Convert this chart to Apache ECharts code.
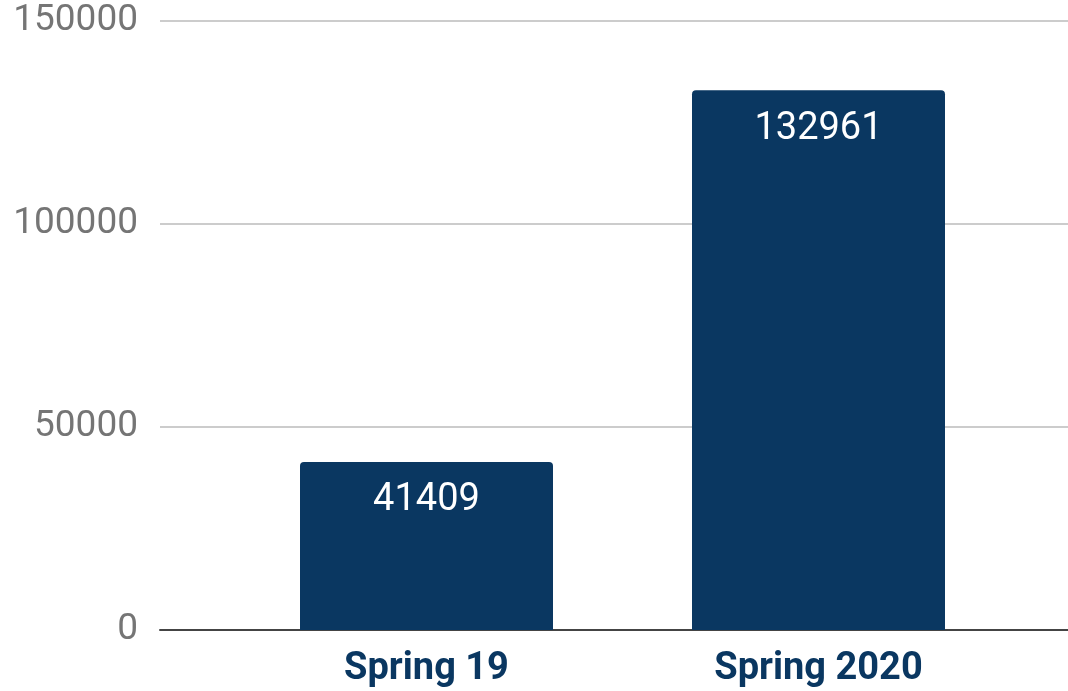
<!DOCTYPE html>
<html><head><meta charset="utf-8">
<script src="https://cdn.jsdelivr.net/npm/echarts@6/dist/echarts.min.js"></script>
<style>html,body{margin:0;padding:0;background:#fff}#c{width:1068px;height:691px}</style>
</head><body><div id="c"></div>
<script>
const categories = ['Spring 19', 'Spring 2020'];
const values = [41409, 132961];
const yTicks = [0, 50000, 100000, 150000];

const chart = echarts.init(document.getElementById('c'));
const yMin = yTicks[0], yMax = yTicks[yTicks.length - 1], yStep = yTicks[1] - yTicks[0];
chart.setOption({
  animation: false,
  grid: [
    {left: 160, right: 0, top: 21, bottom: 61},
    {left: 230.5, right: 53.5, top: 21, bottom: 61}
  ],
  xAxis: [
    {gridIndex: 0, type: 'category', data: [''], axisLine: {show: true, lineStyle: {color: '#444', width: 2}},
     axisTick: {show: false}, axisLabel: {show: false}},
    {gridIndex: 1, type: 'category', data: categories, axisLine: {show: false}, axisTick: {show: false},
     axisLabel: {color: '#0a3761', fontFamily: 'Roboto', fontWeight: 'bold', fontSize: 38, margin: 20}}
  ],
  yAxis: [
    {gridIndex: 0, type: 'value', min: yMin, max: yMax, interval: yStep,
     axisLine: {show: false}, axisTick: {show: false},
     axisLabel: {color: '#757575', fontFamily: 'Roboto', fontSize: 37, margin: 22, formatter: v => String(v)},
     splitLine: {lineStyle: {color: '#cccccc', width: 2}}},
    {gridIndex: 1, type: 'value', min: yMin, max: yMax, interval: yStep, show: false}
  ],
  series: [{
    type: 'bar', xAxisIndex: 1, yAxisIndex: 1, data: values, barWidth: 253,
    itemStyle: {color: '#0a3761', borderRadius: [4, 4, 0, 0]},
    label: {show: true, position: 'insideTop', distance: 20, color: '#ffffff', fontFamily: 'Roboto', fontSize: 38}
  }]
});
</script></body></html>
